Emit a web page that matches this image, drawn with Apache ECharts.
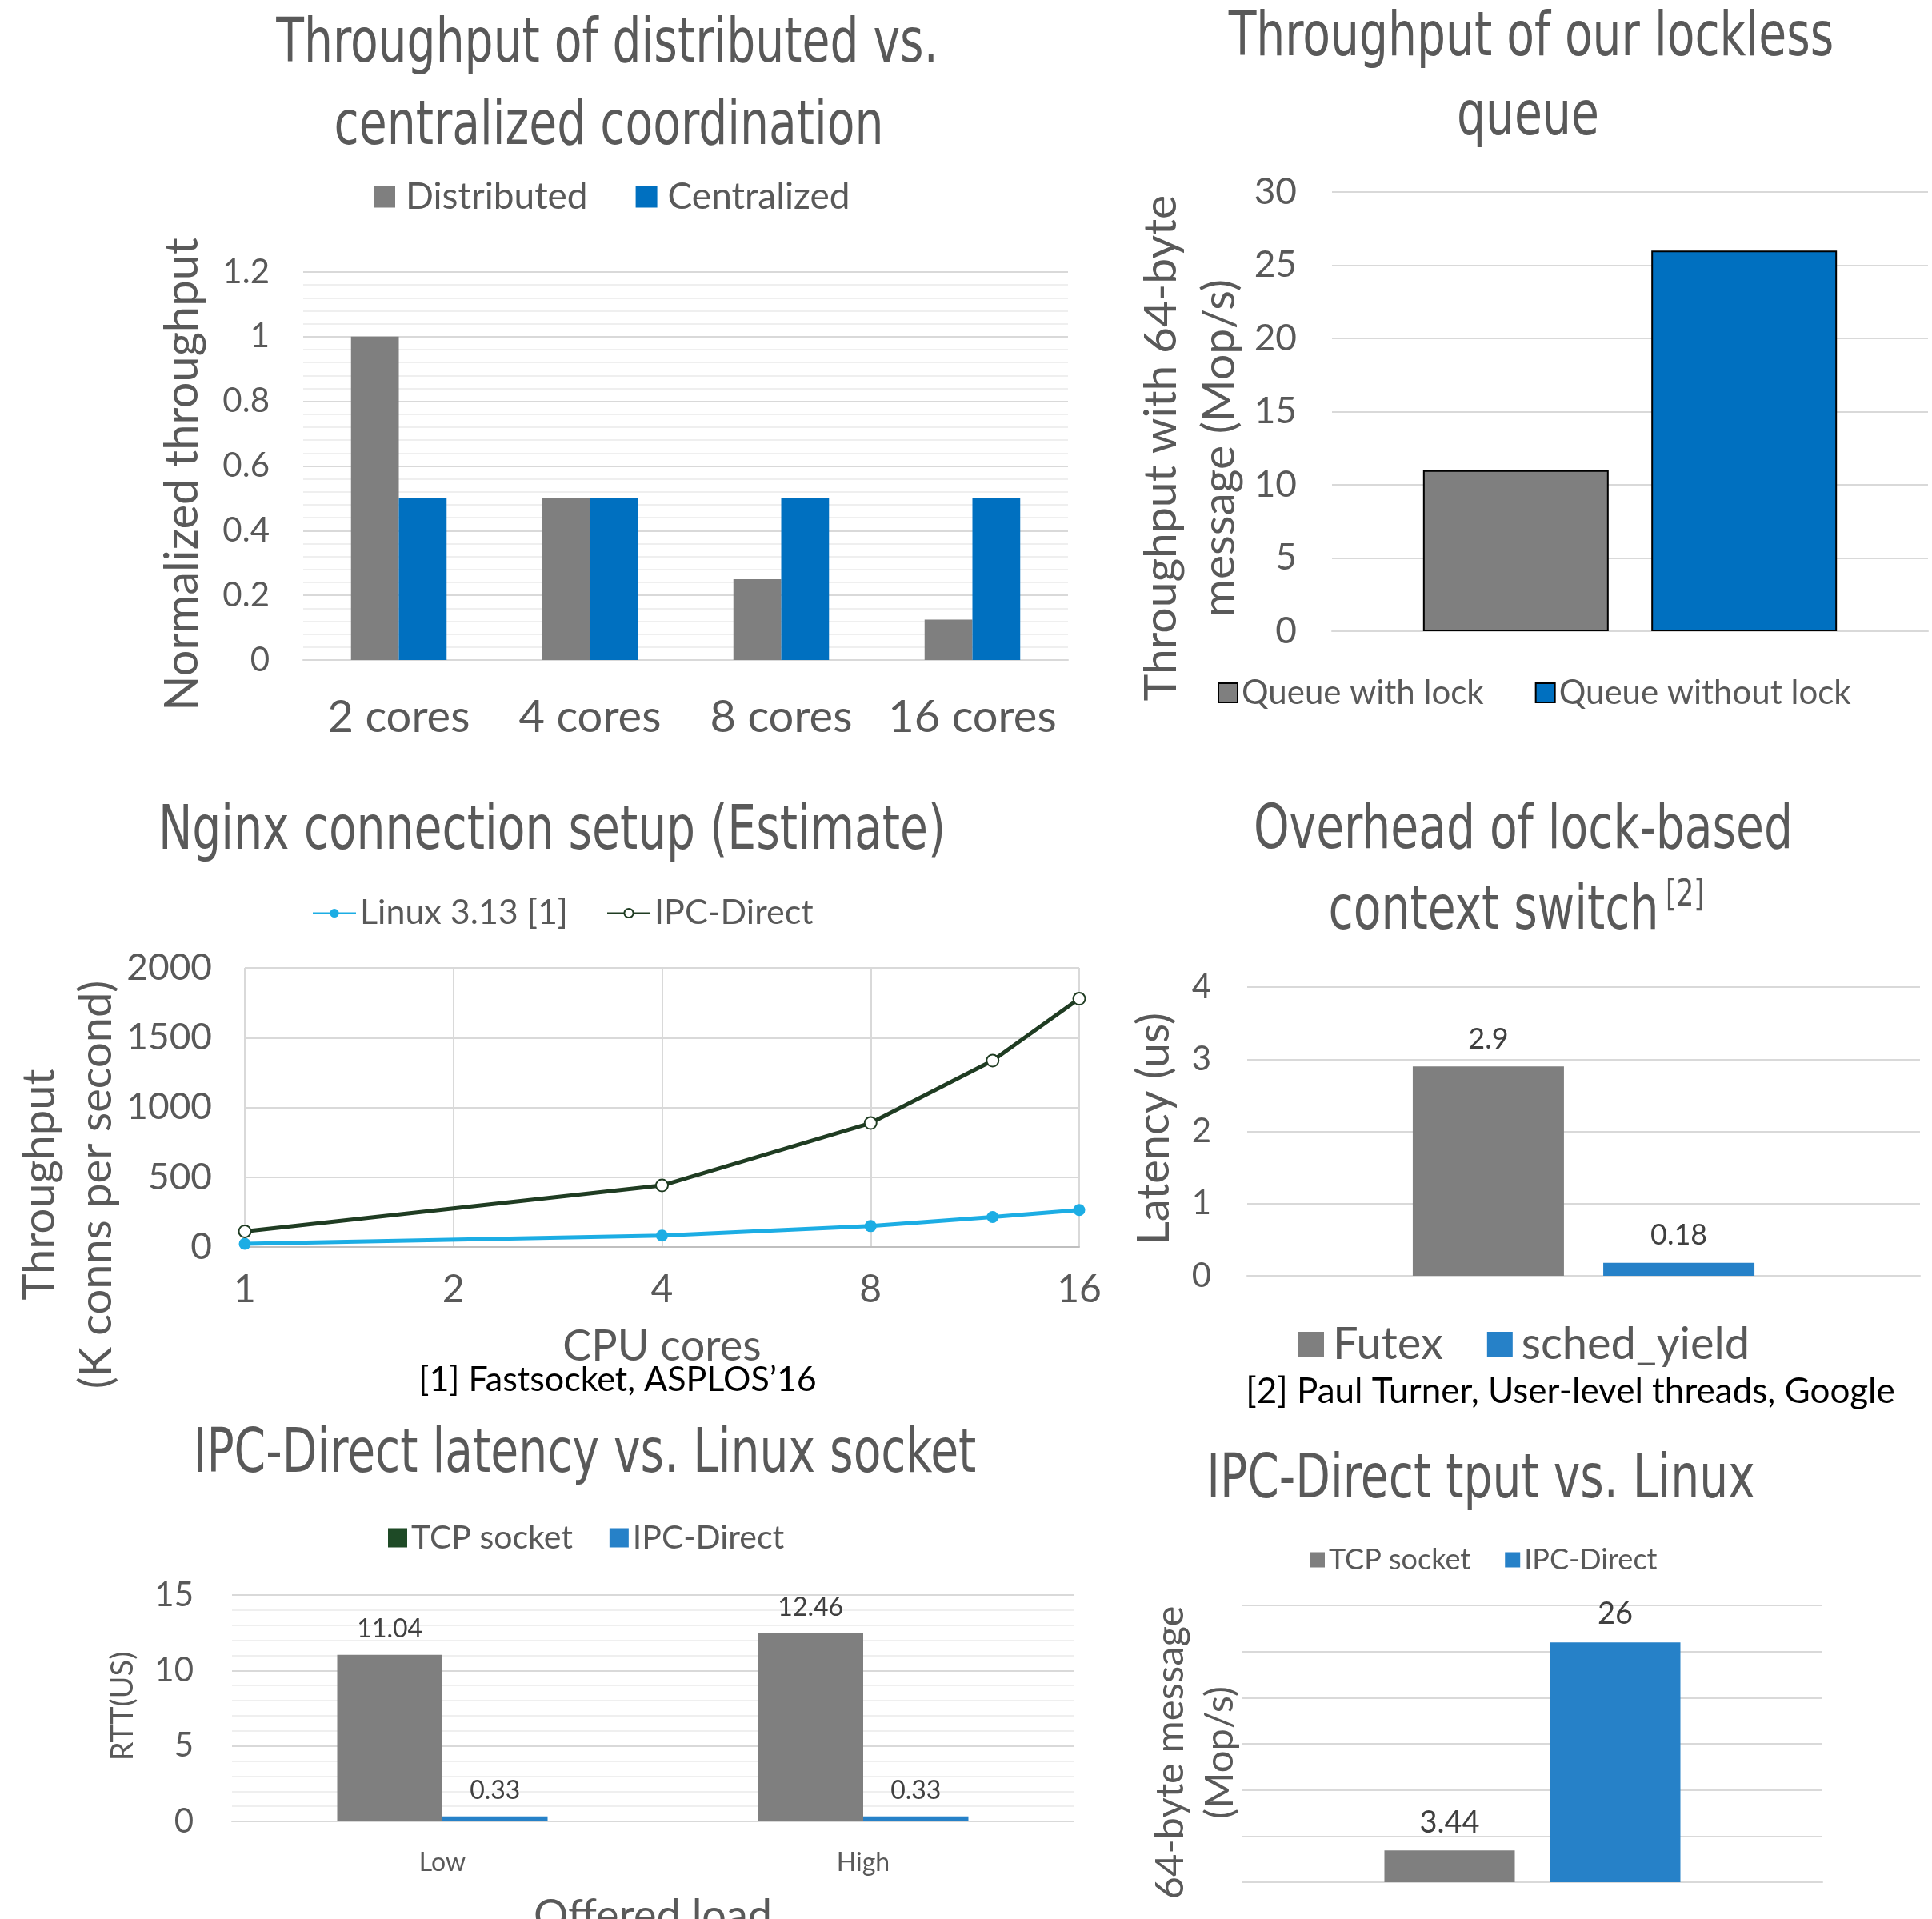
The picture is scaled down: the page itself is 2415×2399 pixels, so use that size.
<!DOCTYPE html>
<html>
<head>
<meta charset="utf-8">
<script src="https://cdn.jsdelivr.net/npm/echarts@6/dist/echarts.min.js"></script>
<style>
html, body { margin: 0; background: #fff; }
#main { width: 2415px; height: 2399px; }
</style>
</head>
<body>
<div id="main"></div>
<script>
// panel 1 - distributed vs centralized
var coreCats = ['2 cores', '4 cores', '8 cores', '16 cores'];
var distributed = [1, 0.5, 0.25, 0.125];
var centralized = [0.5, 0.5, 0.5, 0.5];

// panel 2 - lockless queue
var queueCats = ['queue'];
var queueWithLock = [11];
var queueWithoutLock = [26];

// panel 3 - nginx (log2 x axis)
var cpuCores = [1, 4, 8, 12, 16];
var linuxConns = [23, 82, 150, 215, 265];
var ipcConns = [112, 441, 888, 1335, 1779];

// panel 4 - context switch
var switchCats = ['switch'];
var futex = [2.9];
var schedYield = [0.18];

// panel 5 - latency
var loadCats = ['Low', 'High'];
var tcpRtt = [11.04, 12.46];
var ipcRtt = [0.33, 0.33];

// panel 6 - tput
var tputCats = ['tput'];
var tcpTput = [3.44];
var ipcTput = [26];

var TF = "'Liberation Sans Narrow', 'DejaVu Sans Condensed', sans-serif";
var BF = "Lato, 'Noto Sans', sans-serif";
var TXT = '#595959';
var GRAY = '#7f7f7f';
var BLUE = '#0070c0';
var BLUE2 = '#2681c8';
var MAJ = '#d9d9d9';
var MIN = '#efefef';

function pairs(xs, ys) {
    var out = [];
    for (var i = 0; i < xs.length; i++) out.push([xs[i], ys[i]]);
    return out;
}

// titles are drawn squeezed a bit, the original font is a condensed one
function title(text, x, y, size, align) {
    return {
        type: 'text', x: x, y: y, scaleX: 0.83,
        style: {
            text: text, x: 0, y: 0,
            align: align || 'center', verticalAlign: 'middle',
            fontSize: size || 76, fontFamily: TF, fill: TXT
        }
    };
}

function note(text, x, y, size) {
    return {
        type: 'text',
        style: {
            text: text, x: x, y: y, align: 'center', verticalAlign: 'middle',
            fontSize: size, fontFamily: BF, fill: '#000'
        }
    };
}

// rotated axis titles
function yName(text, x, y, size, lh) {
    return {
        type: 'text', x: x, y: y, rotation: Math.PI / 2,
        style: {
            text: text, x: 0, y: 0, align: 'center', verticalAlign: 'middle',
            fontSize: size, lineHeight: lh || size, fontFamily: BF, fill: TXT
        }
    };
}

function catAxis(grid, data, label) {
    return {
        type: 'category', gridIndex: grid, data: data,
        axisLine: { lineStyle: { color: MAJ, width: 2 } },
        axisTick: { show: false },
        axisLabel: label ? label : { show: false }
    };
}

function valAxis(grid, max, interval, extra) {
    var a = {
        type: 'value', gridIndex: grid, min: 0, max: max, interval: interval,
        axisLine: { show: false },
        axisTick: { show: false },
        splitLine: { lineStyle: { color: MAJ, width: 2 } },
        axisLabel: { fontSize: 42, color: TXT, fontFamily: BF, margin: 42 }
    };
    for (var k in extra) a[k] = extra[k];
    return a;
}

var myChart = echarts.init(document.getElementById('main'));

var option = {
    animation: false,
    backgroundColor: '#fff',
    grid: [
        { left: 379, top: 340, width: 956, height: 485, outerBoundsMode: 'none' },
        { left: 1665, top: 240, width: 745, height: 549, outerBoundsMode: 'none' },
        { left: 306, top: 1210, width: 1043, height: 349, outerBoundsMode: 'none' },
        { left: 1559, top: 1234, width: 841, height: 361, outerBoundsMode: 'none' },
        { left: 290, top: 1994, width: 1052, height: 283, outerBoundsMode: 'none' },
        { left: 1553, top: 2007, width: 725, height: 346, outerBoundsMode: 'none' }
    ],
    xAxis: [
        catAxis(0, coreCats, { interval: 0, hideOverlap: false, fontSize: 56, color: TXT, fontFamily: BF, margin: 44 }),
        catAxis(1, queueCats),
        {
            type: 'log', logBase: 2, gridIndex: 2, min: 1, max: 16,
            axisLine: { lineStyle: { color: '#bfbfbf', width: 2 } },
            axisTick: { show: false },
            splitLine: { show: true, lineStyle: { color: MAJ, width: 2 } },
            axisLabel: { fontSize: 48, color: TXT, fontFamily: BF, margin: 30 },
            name: 'CPU cores', nameLocation: 'middle', nameGap: 98,
            nameTextStyle: { color: TXT, fontFamily: BF, fontSize: 54 }
        },
        catAxis(3, switchCats),
        (function () {
            var a = catAxis(4, loadCats, { interval: 0, fontSize: 32, color: TXT, fontFamily: BF, margin: 36 });
            a.name = 'Offered load';
            a.nameLocation = 'middle';
            a.nameGap = 92;
            a.nameTextStyle = { color: TXT, fontFamily: BF, fontSize: 54 };
            return a;
        })(),
        catAxis(5, tputCats)
    ],
    yAxis: [
        valAxis(0, 1.2, 0.2, {
            minorTick: { show: false, splitNumber: 5 },
            minorSplitLine: { show: true, lineStyle: { color: MIN, width: 2 } }
        }),
        valAxis(1, 30, 5, {
            axisLabel: { fontSize: 46, color: TXT, fontFamily: BF, margin: 44 }
        }),
        valAxis(2, 2000, 500, {
            axisLabel: {
                fontSize: 46, color: TXT, fontFamily: BF, margin: 41,
                formatter: function (v) { return String(v); }
            }
        }),
        valAxis(3, 4, 1, {
            axisLabel: { fontSize: 42, color: TXT, fontFamily: BF, margin: 45 }
        }),
        valAxis(4, 15, 5, {
            axisLabel: { fontSize: 42, color: TXT, fontFamily: BF, margin: 48 },
            minorTick: { show: false, splitNumber: 5 },
            minorSplitLine: { show: true, lineStyle: { color: MIN, width: 2 } }
        }),
        valAxis(5, 30, 5, {
            axisLabel: { show: false }
        })
    ],
    legend: [
        {
            data: ['Distributed', 'Centralized'], left: 462, top: 218,
            icon: 'rect', itemWidth: 27, itemHeight: 27, itemGap: 60,
            textStyle: { fontSize: 46, color: TXT, fontFamily: BF, padding: [0, 0, 0, 8] }
        },
        {
            data: ['Queue with lock', 'Queue without lock'], left: 1517, top: 840,
            icon: 'rect', itemWidth: 24, itemHeight: 24, itemGap: 64,
            textStyle: { fontSize: 42, color: TXT, fontFamily: BF }
        },
        {
            data: ['Linux 3.13 [1]', 'IPC-Direct'], left: 385, top: 1115,
            itemWidth: 54, itemHeight: 14, itemGap: 48,
            textStyle: { fontSize: 43, color: TXT, fontFamily: BF }
        },
        {
            data: ['Futex', 'sched_yield'], left: 1618, top: 1648,
            icon: 'rect', itemWidth: 32, itemHeight: 32, itemGap: 55,
            textStyle: { fontSize: 56, color: TXT, fontFamily: BF, padding: [0, 0, 0, 6] }
        },
        {
            data: [{ name: 'TCP socket', itemStyle: { color: '#1e4a26' } }, 'IPC-Direct '],
            left: 480, top: 1897,
            icon: 'rect', itemWidth: 24, itemHeight: 24, itemGap: 46,
            formatter: function (n) { return n.trim(); },
            textStyle: { fontSize: 41, color: TXT, fontFamily: BF }
        },
        {
            data: ['TCP socket ', 'IPC-Direct  '], left: 1632, top: 1927,
            icon: 'rect', itemWidth: 19, itemHeight: 19, itemGap: 43,
            formatter: function (n) { return n.trim(); },
            textStyle: { fontSize: 36, color: TXT, fontFamily: BF }
        }
    ],
    series: [
        {
            name: 'Distributed', type: 'bar', xAxisIndex: 0, yAxisIndex: 0,
            data: distributed, barGap: 0, barCategoryGap: '50%',
            itemStyle: { color: GRAY }
        },
        {
            name: 'Centralized', type: 'bar', xAxisIndex: 0, yAxisIndex: 0,
            data: centralized, itemStyle: { color: BLUE }
        },
        {
            name: 'Queue with lock', type: 'bar', xAxisIndex: 1, yAxisIndex: 1,
            data: queueWithLock, barWidth: 232, barGap: '23%',
            itemStyle: { color: GRAY, borderColor: '#000', borderWidth: 2 }
        },
        {
            name: 'Queue without lock', type: 'bar', xAxisIndex: 1, yAxisIndex: 1,
            data: queueWithoutLock, barWidth: 232,
            itemStyle: { color: BLUE, borderColor: '#000', borderWidth: 2 }
        },
        {
            name: 'Linux 3.13 [1]', type: 'line', xAxisIndex: 2, yAxisIndex: 2,
            data: pairs(cpuCores, linuxConns),
            symbol: 'circle', symbolSize: 15,
            itemStyle: { color: '#1cade4' },
            lineStyle: { color: '#1cade4', width: 5 }
        },
        {
            name: 'IPC-Direct', type: 'line', xAxisIndex: 2, yAxisIndex: 2,
            data: pairs(cpuCores, ipcConns),
            symbol: 'emptyCircle', symbolSize: 15,
            itemStyle: { color: '#1f3c22', borderWidth: 2 },
            lineStyle: { color: '#1f3c22', width: 5 }
        },
        {
            name: 'Futex', type: 'bar', xAxisIndex: 3, yAxisIndex: 3,
            data: futex, barWidth: 189, barGap: '26%',
            itemStyle: { color: GRAY },
            label: { show: true, position: 'top', distance: 16, fontSize: 36, color: '#404040', fontFamily: BF }
        },
        {
            name: 'sched_yield', type: 'bar', xAxisIndex: 3, yAxisIndex: 3,
            data: schedYield, barWidth: 189,
            itemStyle: { color: BLUE2 },
            label: { show: true, position: 'top', distance: 16, fontSize: 36, color: '#404040', fontFamily: BF }
        },
        {
            name: 'TCP socket', type: 'bar', xAxisIndex: 4, yAxisIndex: 4,
            data: tcpRtt, barGap: 0, barCategoryGap: '50%',
            itemStyle: { color: GRAY },
            label: { show: true, position: 'top', distance: 16, fontSize: 32, color: '#404040', fontFamily: BF }
        },
        {
            name: 'IPC-Direct ', type: 'bar', xAxisIndex: 4, yAxisIndex: 4,
            data: ipcRtt,
            itemStyle: { color: BLUE2 },
            label: { show: true, position: 'top', distance: 16, fontSize: 32, color: '#404040', fontFamily: BF }
        },
        {
            name: 'TCP socket ', type: 'bar', xAxisIndex: 5, yAxisIndex: 5,
            data: tcpTput, barWidth: 163, barGap: '27%',
            itemStyle: { color: GRAY },
            label: { show: true, position: 'top', distance: 16, fontSize: 38, color: '#404040', fontFamily: BF }
        },
        {
            name: 'IPC-Direct  ', type: 'bar', xAxisIndex: 5, yAxisIndex: 5,
            data: ipcTput, barWidth: 163,
            itemStyle: { color: BLUE2 },
            label: { show: true, position: 'top', distance: 16, fontSize: 38, color: '#404040', fontFamily: BF }
        }
    ],
    graphic: [
        title('Throughput of distributed vs.', 759, 57),
        title('centralized coordination', 761, 160),
        title('Throughput of our lockless', 1914, 49),
        title('queue', 1910, 148),
        title('Nginx connection setup (Estimate)', 690, 1041),
        title('Overhead of lock-based', 1904, 1040),
        title('context switch', 1867, 1141),
        title('[2]', 2082, 1120, 46, 'left'),
        title('IPC-Direct latency vs. Linux socket', 731, 1820),
        title('IPC-Direct tput vs. Linux', 1851, 1852),
        note('[1] Fastsocket, ASPLOS\u201916', 772, 1725, 43),
        note('[2] Paul Turner, User-level threads, Google', 1963, 1740, 44),
        yName('Normalized throughput', 228, 593, 58),
        yName('Throughput with 64-byte\nmessage (Mop/s)', 1488, 560, 57, 73),
        yName('Throughput\n(K conns per second)', 85, 1481, 56, 71),
        yName('Latency (us)', 1443, 1411, 56),
        yName('RTT(US)', 154, 2133, 38),
        yName('64-byte message\n(Mop/s)', 1494, 2191, 49, 62)
    ]
};

myChart.setOption(option);
</script>
</body>
</html>
